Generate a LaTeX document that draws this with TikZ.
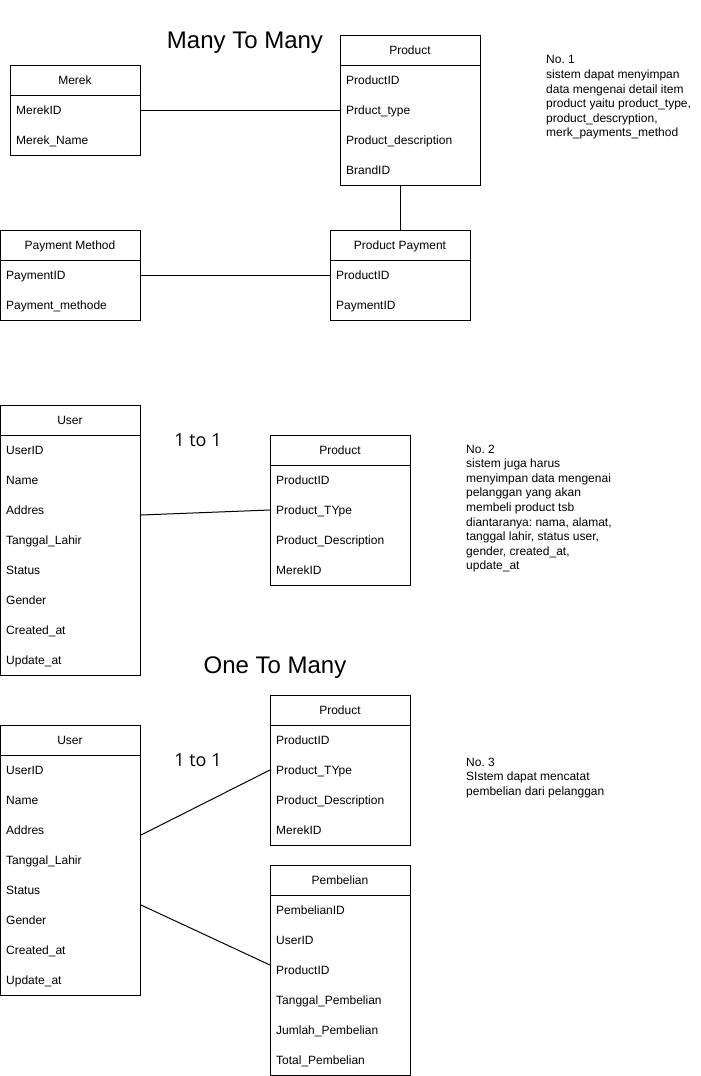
\documentclass[tikz,border=0pt]{standalone}
\usepackage{fontspec}
\setmainfont{Liberation Sans}
\newfontfamily\onefont{Open Sans}
\frenchspacing
\tikzset{
  hdr/.style={draw, line width=1pt, anchor=north west, minimum height=30pt, inner sep=0pt},
  hdrtext/.style={anchor=base, inner sep=0pt, font=\fontsize{12}{14}\selectfont},
  bodyb/.style={draw, line width=1pt, anchor=north west, inner sep=0pt},
  fld/.style={anchor=base west, inner sep=0pt, font=\fontsize{12}{14}\selectfont},
  conn/.style={line width=1pt},
  ttl/.style={anchor=base, inner sep=0pt, font=\fontsize{24}{28}\selectfont},
  card/.style={anchor=base, inner sep=0pt, font=\onefont\fontsize{18}{21}\selectfont},
  note/.style={anchor=north west, inner sep=0pt, align=left, font=\fontsize{12}{14.6}\selectfont\frenchspacing}
}
\newcommand{\erbox}[7]{% name, x, y, width, title, n, fields
  \node[hdr, minimum width=#4pt] (#1) at (#2,#3) {};
  \node[hdrtext] (#1-t) at (#2+#4/2,#3+19) {#5};
  \node[bodyb, minimum width=#4pt, minimum height=30pt*#6] (#1-body) at (#2,#3+30) {};
  \foreach \f [count=\i] in {#7} {
    \node[fld] (#1-\i) at (#2+6,#3+19+30*\i) {\f};
  }
}
\begin{document}
\begin{tikzpicture}[x=1pt,y=-1pt]
\useasboundingbox (0,0) rectangle (701,1076);

% Many to many
\node[ttl] (t1) at (245,48) {Many To Many};
\erbox{merek}{10}{65}{130}{Merek}{2}{MerekID,Merek\_Name}
\erbox{prod}{340}{35}{140}{Product}{4}{ProductID,Prduct\_type,Product\_description,BrandID}
\erbox{pm}{0}{230}{140}{Payment Method}{2}{PaymentID,Payment\_methode}
\erbox{pp}{330}{230}{140}{Product Payment}{2}{ProductID,PaymentID}

\draw[conn] (merek-body.east |- 0,110) -- (prod-body.west |- 0,110);
\draw[conn] (pp.north) -- (pp.north |- prod-body.south);
\draw[conn] (pm-body.east |- 0,275) -- (pp-body.west |- 0,275);

\node[note] (n1) at (546,55.5) {No. 1\\sistem dapat menyimpan\\data mengenai detail item\\product yaitu product\_type,\\product\_descryption,\\merk\_payments\_method};

% 1 to 1
\erbox{ua}{0}{405}{140}{User}{8}{UserID,Name,Addres,Tanggal\_Lahir,Status,Gender,Created\_at,Update\_at}
\node[card] (c1) at (198,446.5) {1 to 1};
\erbox{pa}{270}{435}{140}{Product}{4}{ProductID,Product\_TYpe,Product\_Description,MerekID}
\draw[conn] ([yshift=-80pt]ua-body.north east) -- ([yshift=-45pt]pa-body.north west);

\node[note] (n2) at (466,444.5) {No. 2\\sistem juga harus\\menyimpan data mengenai\\pelanggan yang akan\\membeli product tsb\\diantaranya: nama, alamat,\\tanggal lahir, status user,\\gender, created\_at,\\update\_at};

% One to many
\node[ttl] (t2) at (275,673) {One To Many};
\erbox{ub}{0}{725}{140}{User}{8}{UserID,Name,Addres,Tanggal\_Lahir,Status,Gender,Created\_at,Update\_at}
\node[card] (c2) at (198,766.5) {1 to 1};
\erbox{pb}{270}{695}{140}{Product}{4}{ProductID,Product\_TYpe,Product\_Description,MerekID}
\erbox{pem}{270}{865}{140}{Pembelian}{6}{PembelianID,UserID,ProductID,Tanggal\_Pembelian,Jumlah\_Pembelian,Total\_Pembelian}
\draw[conn] ([yshift=-80pt]ub-body.north east) -- ([yshift=-45pt]pb-body.north west);
\draw[conn] ([yshift=-150pt]ub-body.north east) -- ([yshift=-70pt]pem-body.north west);

\node[note] (n3) at (466,757.5) {No. 3\\SIstem dapat mencatat\\pembelian dari pelanggan};
\end{tikzpicture}
\end{document}
